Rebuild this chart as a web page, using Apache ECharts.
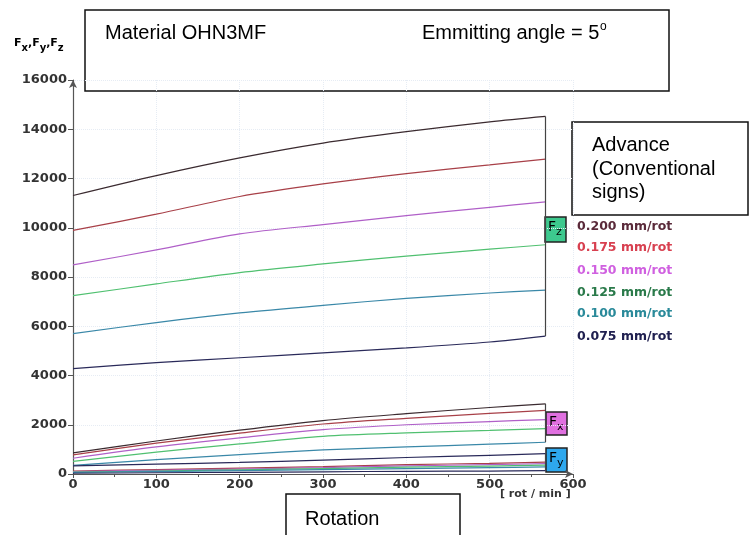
<!DOCTYPE html>
<html><head><meta charset="utf-8">
<script src="https://cdn.jsdelivr.net/npm/echarts@6/dist/echarts.min.js"></script>
<style>html,body{margin:0;padding:0;background:#fff}#c{width:749px;height:535px}</style>
</head><body><div id="c"></div>
<script>
// rotation speed [rot/min]
const rpm = [0, 100, 200, 300, 400, 500, 567];
const feeds = ['0.200 mm/rot', '0.175 mm/rot', '0.150 mm/rot', '0.125 mm/rot', '0.100 mm/rot', '0.075 mm/rot'];
// Fz
const fz200 = [11310, 12120, 12840, 13440, 13900, 14300, 14520];
const fz175 = [9890, 10550, 11270, 11780, 12200, 12550, 12790];
const fz150 = [8490, 9100, 9750, 10130, 10490, 10830, 11050];
const fz125 = [7240, 7720, 8180, 8530, 8850, 9130, 9310];
const fz100 = [5700, 6150, 6540, 6850, 7130, 7350, 7470];
const fz075 = [4280, 4520, 4720, 4920, 5120, 5360, 5600];
// Fx
const fx200 = [860, 1340, 1780, 2170, 2450, 2700, 2850];
const fx175 = [780, 1250, 1660, 2030, 2260, 2460, 2580];
const fx150 = [640, 1100, 1470, 1800, 2000, 2130, 2210];
const fx125 = [510, 890, 1220, 1530, 1670, 1770, 1840];
const fx100 = [350, 580, 790, 980, 1100, 1210, 1290];
// Fy
const fy200 = [330, 400, 470, 560, 670, 760, 830];
const fy175 = [120, 180, 240, 300, 380, 430, 480];
const fy150 = [100, 150, 200, 260, 330, 380, 420];
const fy125 = [80, 120, 170, 220, 280, 320, 360];
const fy100 = [60, 100, 140, 180, 220, 260, 290];
const fy075 = [30, 50, 70, 90, 110, 120, 140];

const lineColors = ['#3b2b30', '#a84048', '#b060c8', '#50c070', '#3a88a8', '#2a2a5a'];
const legendColors = ['#5a2a3a', '#d84050', '#d060e0', '#2a7a4a', '#2a8a9a', '#202050'];

const pairs = v => rpm.map((r, i) => [r, v[i]]);
const series = [];
function addGroup(arrs, colorIdx) {
  arrs.forEach((a, k) => series.push({
    type: 'line', data: pairs(a), smooth: 0.3, showSymbol: false, silent: true,
    lineStyle: { width: 1.2, color: lineColors[colorIdx[k]] }
  }));
  const top = arrs[0], bot = arrs[arrs.length - 1], n = rpm.length - 1;
  series.push({
    type: 'line', data: [[rpm[n], top[n]], [rpm[n], bot[n]]], showSymbol: false, silent: true,
    lineStyle: { width: 1.2, color: '#444' }
  });
}
addGroup([fz200, fz175, fz150, fz125, fz100, fz075], [0, 1, 2, 3, 4, 5]);
addGroup([fx200, fx175, fx150, fx125, fx100], [0, 1, 2, 3, 4]);
addGroup([fy200, fy175, fy150, fy125, fy100, fy075], [5, 1, 2, 3, 4, 5]);

const boxText = (x, y, w, h, fill, sub) => [
  { type: 'rect', shape: { x, y, width: w, height: h }, style: { fill, stroke: '#222', lineWidth: 1.5 } },
  { type: 'text', x: x + 3, y: y + 3, style: {
      text: '{F|F}{s|' + sub + '}', rich: {
        F: { fontSize: 14, fontFamily: 'DejaVu Sans', color: '#333', verticalAlign: 'top', lineHeight: 18 },
        s: { fontSize: 11, fontFamily: 'DejaVu Sans', color: '#333', verticalAlign: 'bottom', lineHeight: 18 } } } }
];

const graphic = [
  { type: 'rect', shape: { x: 85, y: 10, width: 584, height: 81 }, style: { fill: '#fff', stroke: '#111', lineWidth: 1.5 } },
  { type: 'text', x: 105, y: 33, style: { text: 'Material OHN3MF', font: '20px "Liberation Sans", Arial', fill: '#000', verticalAlign: 'middle' } },
  { type: 'text', x: 422, y: 33, style: { text: 'Emmitting angle = 5', font: '20px "Liberation Sans", Arial', fill: '#000', verticalAlign: 'middle' } },
  { type: 'text', x: 600, y: 27, style: { text: 'o', font: '12px "Liberation Sans", Arial', fill: '#000', verticalAlign: 'middle' } },
  { type: 'rect', shape: { x: 572, y: 122, width: 176, height: 93 }, style: { fill: '#fff', stroke: '#111', lineWidth: 1.5 } },
  { type: 'text', x: 592, y: 134, style: { text: 'Advance\n(Conventional\nsigns)', font: '20px "Liberation Sans", Arial', lineHeight: 23.5, fill: '#000' } },
  { type: 'rect', shape: { x: 286, y: 494, width: 174, height: 50 }, style: { fill: '#fff', stroke: '#111', lineWidth: 1.5 } },
  { type: 'text', x: 305, y: 519, style: { text: 'Rotation', font: '20px "Liberation Sans", Arial', fill: '#000', verticalAlign: 'middle' } },
  { type: 'text', x: 500, y: 494, style: { text: '[ rot / min ]', font: 'bold 11px "DejaVu Sans"', fill: '#333', verticalAlign: 'middle' } },
  { type: 'text', x: 14, y: 38, style: {
      text: '{F|F}{s|x}{F|,F}{s|y}{F|,F}{s|z}', rich: {
        F: { fontSize: 11, fontWeight: 'bold', fontFamily: 'DejaVu Sans', color: '#555', verticalAlign: 'top', lineHeight: 15 },
        s: { fontSize: 10, fontWeight: 'bold', fontFamily: 'DejaVu Sans', color: '#555', verticalAlign: 'bottom', lineHeight: 15 } } } },
  ...boxText(545, 217, 21, 25, '#3dc98e', 'z'),
  ...boxText(546, 412, 21, 23, '#e070e0', 'x'),
  ...boxText(546, 448, 21, 24, '#2ea8ee', 'y'),
  ...feeds.map((f, i) => ({ type: 'text', x: 577, y: [227, 248, 271, 293, 314, 337][i],
      style: { text: f, font: 'bold 12.5px "DejaVu Sans"', fill: legendColors[i], verticalAlign: 'middle' } }))
];

const axisLabel = { fontFamily: 'DejaVu Sans', fontWeight: 'bold', fontSize: 13, color: '#333', formatter: v => String(v) };
const chart = echarts.init(document.getElementById('c'));
chart.setOption({
  animation: false,
  backgroundColor: '#fff',
  grid: { left: 73, right: 176, top: 80, bottom: 61 },
  xAxis: {
    type: 'value', min: 0, max: 600, interval: 100,
    axisLine: { show: true, symbol: ['none', 'arrow'], symbolSize: [6, 8], lineStyle: { color: '#555', width: 1.2 } },
    axisTick: { show: true, length: 4, lineStyle: { color: '#555' } },
    minorTick: { show: true, splitNumber: 2, length: 3, lineStyle: { color: '#555' } },
    axisLabel: Object.assign({ margin: 4 }, axisLabel),
    splitLine: { show: true, lineStyle: { color: '#e6ecf4', type: 'dotted' } }
  },
  yAxis: {
    type: 'value', min: 0, max: 16000, interval: 2000,
    axisLine: { show: true, symbol: ['none', 'arrow'], symbolSize: [6, 8], lineStyle: { color: '#555', width: 1.2 } },
    axisTick: { show: true, length: 5, lineStyle: { color: '#555' } },
    axisLabel: Object.assign({ margin: 6 }, axisLabel),
    splitLine: { show: true, lineStyle: { color: '#e6ecf4', type: 'dotted' } }
  },
  series,
  graphic
});
</script></body></html>
